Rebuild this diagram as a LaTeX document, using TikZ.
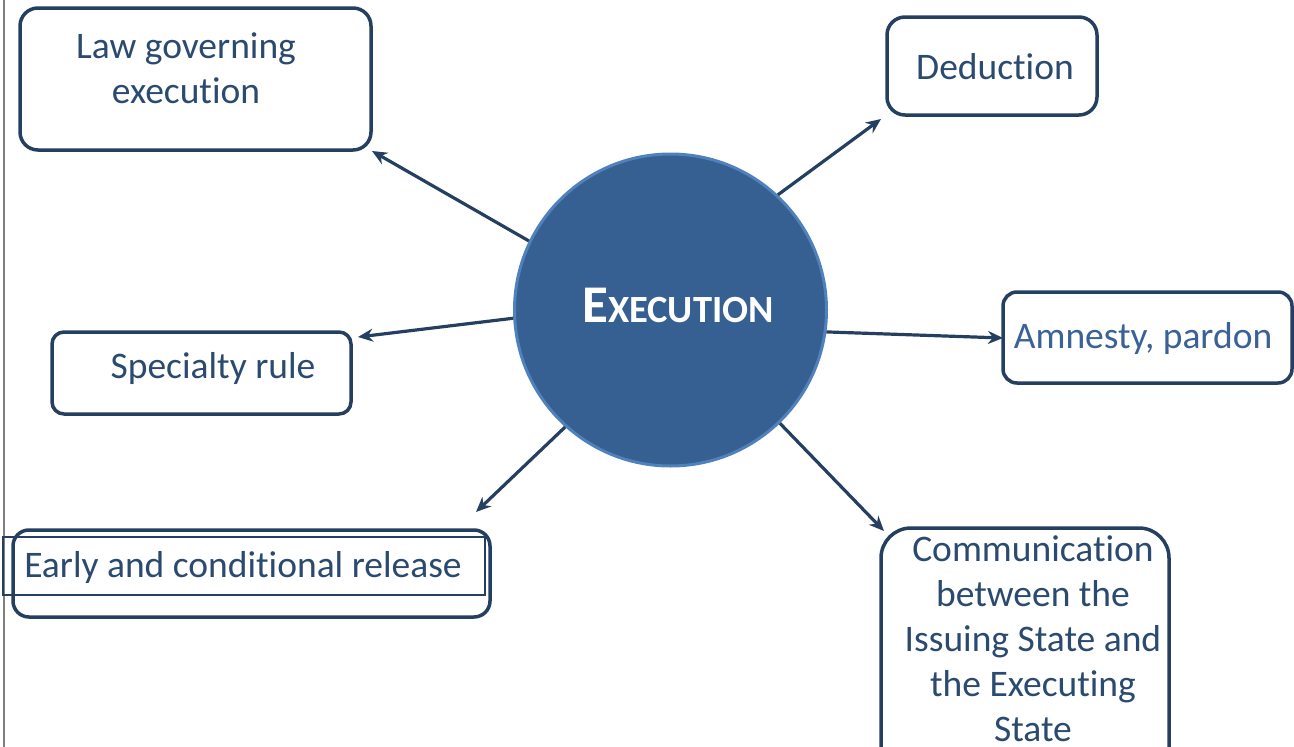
\documentclass[tikz,border=0pt]{standalone}
\usepackage{fontspec}
\setmainfont{Carlito}[Ligatures=NoCommon]
\usetikzlibrary{arrows.meta}
\definecolor{navy}{HTML}{243F60}
\definecolor{txt}{HTML}{2B4A70}
\definecolor{amn}{HTML}{3A6296}
\definecolor{cfill}{HTML}{376092}
\definecolor{cedge}{HTML}{4F81BD}
\tikzset{
  box/.style={draw=navy, line width=3.5pt, rounded corners=18pt, fill=white, inner sep=0pt},
  lbl/.style={text=txt, font=\fontsize{37.5}{45}\selectfont, align=center, inner sep=0pt},
  conn/.style={draw=navy, line width=3.2pt, -{Stealth[length=15pt,width=13pt]}},
}
\begin{document}
\begin{tikzpicture}[x=1pt,y=-1pt]
\useasboundingbox (0,0) rectangle (1294,747);
\draw[gray, line width=1.5pt] (4,0) -- (4,747);
% boxes
\node[box, minimum width=351pt, minimum height=142pt] (law) at (195.5,79) {};
\node[lbl] (lawt) at (186,68) {Law governing\\execution};
\node[box, minimum width=210pt, minimum height=98pt] (ded) at (992,66) {};
\node[lbl] (dedt) at (995,67) {Deduction};
\node[box, minimum width=299pt, minimum height=82pt, rounded corners=12pt] (spec) at (201.5,373) {};
\node[lbl] (spect) at (213,368) {Specialty rule};
\node[box, minimum width=289pt, minimum height=91pt, rounded corners=14pt] (amn) at (1147.5,337.5) {};
\node[lbl, text=amn] (amnt) at (1143,338) {Amnesty, pardon};
\node[box, minimum width=477pt, minimum height=87pt, rounded corners=16pt] (early) at (251.5,573.5) {};
\draw[navy, line width=1.2pt] (3,537) rectangle (485,595);
\node[lbl] (earlyt) at (243,567) {Early and conditional release};
\node[box, minimum width=288pt, minimum height=260pt, rounded corners=30pt] (comm) at (1025,658) {};
\node[lbl] (commt) at (1033,639) {Communication\\between the\\Issuing State and\\the Executing\\State};
% centre
\node[circle, draw=cedge, fill=cfill, line width=3pt, minimum size=312pt, inner sep=0pt] (c) at (670.5,310) {};
\node[text=white, font=\bfseries, inner sep=0pt] (ct) at (678,305) {\fontsize{53}{53}\selectfont E\fontsize{38.5}{38.5}\selectfont XECUTION};
% tips
\coordinate (t1) at (372,151);
\coordinate (t2) at (881,119);
\coordinate (t3) at (358,337);
\coordinate (t4) at (1003,338);
\coordinate (t5) at (476,512);
\coordinate (t6) at (884,531);
\draw[conn] (c.154) -- (t1);
\draw[conn] (c.47) -- (t2);
\draw[conn] (c.183) -- (t3);
\draw[conn] (c.-8) -- (t4);
\draw[conn] (c.228) -- (t5);
\draw[conn] (c.-46) -- (t6);
\end{tikzpicture}
\end{document}
